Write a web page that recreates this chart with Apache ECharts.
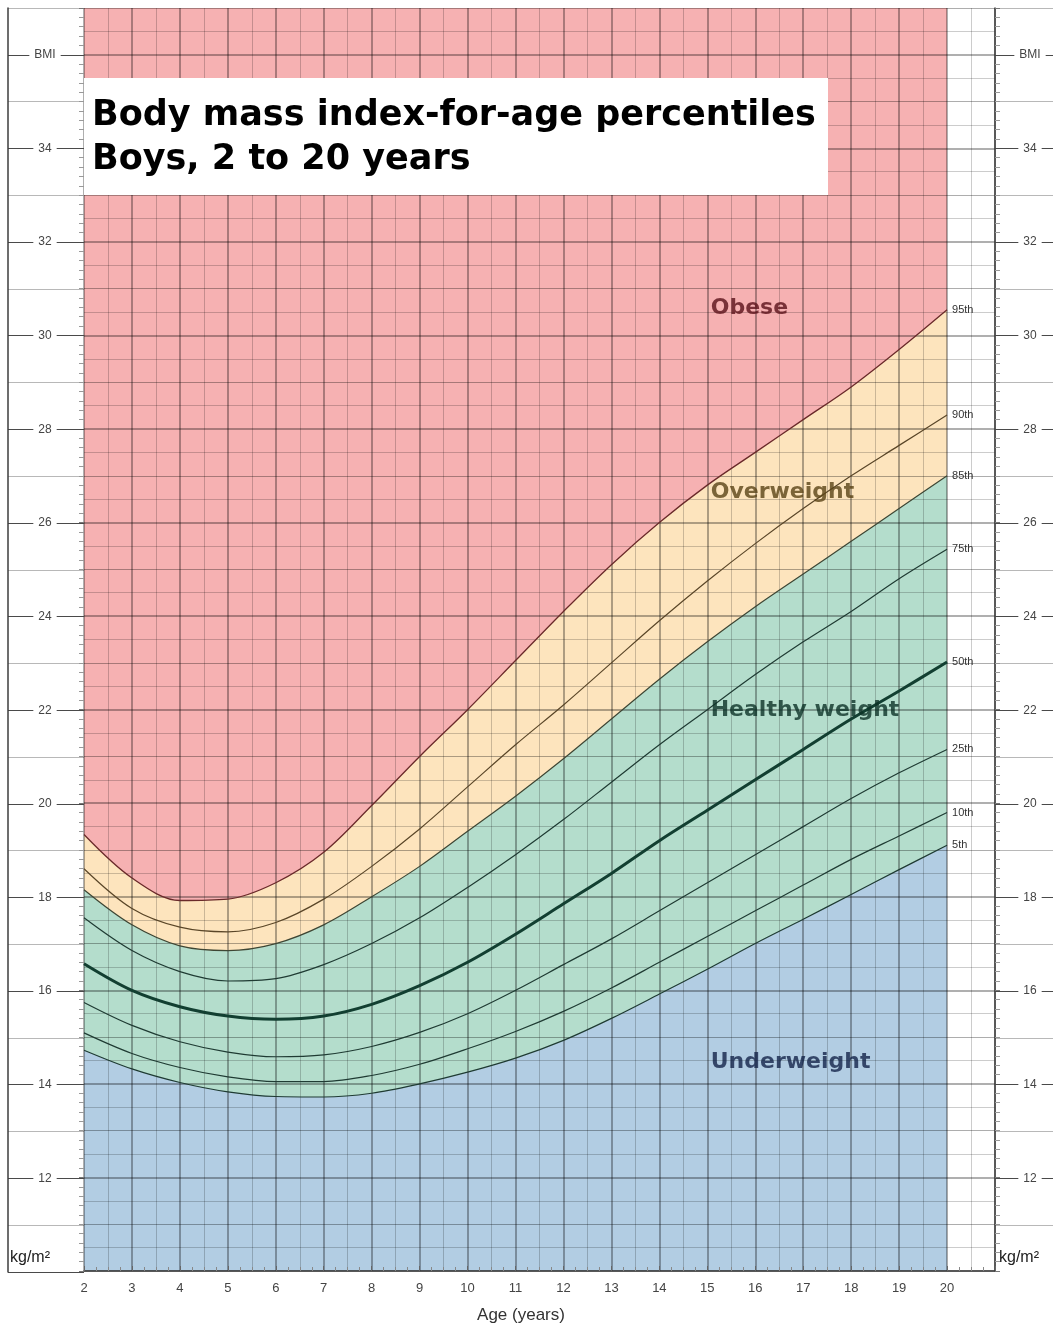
<!DOCTYPE html>
<html>
<head>
<meta charset="UTF-8">
<title>BMI-for-age percentiles, boys 2 to 20</title>
<script src="https://cdn.jsdelivr.net/npm/echarts@6/dist/echarts.min.js"></script>
</head>
<body style="margin:0; background:#fff">
<div id="container" style="width:1053px; height:1329px"></div>
<script>
// ages in years, BMI in kg/m2
var ages = [2, 3, 4, 5, 6, 7, 8, 9, 10, 11, 12, 13, 14, 15, 16, 17, 18, 19, 20];
var p5  = [14.72, 14.32, 14.03, 13.83, 13.73, 13.72, 13.8, 14.0, 14.25, 14.55, 14.93, 15.4, 15.92, 16.45, 17.0, 17.52, 18.05, 18.58, 19.1];
var p10 = [15.09, 14.65, 14.35, 14.15, 14.05, 14.05, 14.18, 14.42, 14.75, 15.12, 15.55, 16.05, 16.6, 17.15, 17.7, 18.25, 18.8, 19.3, 19.8];
var p25 = [15.74, 15.25, 14.9, 14.68, 14.58, 14.62, 14.8, 15.1, 15.5, 16.0, 16.55, 17.1, 17.7, 18.3, 18.9, 19.5, 20.1, 20.65, 21.15];
var p50 = [16.57, 16.0, 15.65, 15.45, 15.38, 15.45, 15.7, 16.1, 16.6, 17.2, 17.85, 18.5, 19.2, 19.85, 20.5, 21.15, 21.8, 22.4, 23.02];
var p75 = [17.55, 16.85, 16.4, 16.2, 16.25, 16.55, 17.0, 17.55, 18.2, 18.9, 19.65, 20.45, 21.25, 22.0, 22.75, 23.45, 24.1, 24.8, 25.43];
var p85 = [18.15, 17.4, 16.95, 16.85, 17.0, 17.4, 18.0, 18.65, 19.4, 20.15, 20.95, 21.8, 22.65, 23.45, 24.2, 24.9, 25.6, 26.3, 27.0];
var p90 = [18.6, 17.75, 17.35, 17.25, 17.45, 17.95, 18.65, 19.45, 20.35, 21.25, 22.1, 23.0, 23.9, 24.75, 25.55, 26.3, 27.0, 27.65, 28.3];
var p95 = [19.33, 18.4, 17.92, 17.95, 18.3, 18.95, 19.95, 21.0, 22.0, 23.05, 24.1, 25.1, 26.0, 26.8, 27.5, 28.2, 28.9, 29.7, 30.55];
var regionNames = ['Obese', 'Overweight', 'Healthy weight', 'Underweight'];

var dom = document.getElementById('container');
var myChart = echarts.init(dom);

function pts(arr) {
    return ages.map(function (a, i) { return [a, arr[i]]; });
}

var axisGray = '#3c3c3c';
var majorLine = 'rgba(0,0,0,0.42)';
var sans = 'Liberation Sans';
var bold = 'DejaVu Sans';
var smoothness = 0.33;

function marginLabel(v) {
    if (v === 36) return '{b|BMI}';
    if (v >= 12 && v <= 34) return '{b|' + v + '}';
    return '';
}

function fill(data, color) {
    return {
        type: 'line', data: data, smooth: smoothness, symbol: 'none', z: 1, silent: true,
        lineStyle: { width: 0, opacity: 0 },
        areaStyle: { color: color, opacity: 1, origin: 'start' }
    };
}

function curve(name, data, color, width) {
    return {
        name: name, type: 'line', data: pts(data), smooth: smoothness, symbol: 'none', z: 4, silent: true,
        lineStyle: { color: color, width: width },
        endLabel: { show: true, formatter: name, distance: 5, color: '#333', fontSize: 11, fontFamily: sans }
    };
}

var regionColors = ['#5a1219', '#5a4316', '#0e3328', '#14244a'];
var regionAt = [[15.06, 30.59], [15.06, 26.64], [15.06, 21.99], [15.06, 14.47]];

var option = {
    animation: false,
    title: {
        text: 'Body mass index-for-age percentiles\nBoys, 2 to 20 years',
        left: 84, top: 78,
        padding: [16, 8, 13, 8],
        backgroundColor: '#fff',
        z: 10,
        textStyle: { fontFamily: bold, fontWeight: 'bold', fontSize: 35, lineHeight: 44, color: '#000', width: 728 }
    },
    grid: [
        { left: 84, right: 58, top: 8, bottom: 57 },
        { left: 8, width: 76, top: 8, bottom: 57 },
        { left: 995, width: 76, top: 8, bottom: 57 }
    ],
    xAxis: [
        {
            type: 'value', gridIndex: 0, min: 2, max: 21, interval: 1, z: 3, position: 'bottom',
            axisLine: { show: true, lineStyle: { color: axisGray, width: 1.5 } },
            axisTick: { show: true, inside: true, length: 5, lineStyle: { color: '#666' } },
            minorTick: { show: true, splitNumber: 4, length: 4, lineStyle: { color: '#888' } },
            axisLabel: {
                formatter: function (v) { return v <= 20 ? String(v) : ''; },
                fontSize: 13, color: '#444', margin: 11, fontFamily: sans
            },
            splitLine: { show: true, lineStyle: { color: majorLine, width: 1.5 } },
            name: 'Age (years)', nameLocation: 'middle', nameGap: 36,
            nameTextStyle: { fontSize: 17, color: '#333', fontFamily: sans, padding: [0, 37, 0, 0] }
        },
        {
            type: 'value', gridIndex: 0, min: 2, max: 21, interval: 0.5, z: 3, position: 'bottom',
            axisLine: { show: false }, axisTick: { show: false }, axisLabel: { show: false },
            splitLine: { show: true, lineStyle: { color: ['rgba(0,0,0,0)', 'rgba(0,0,0,0.2)'], width: 1 } }
        },
        { type: 'value', gridIndex: 1, min: 0, max: 1, show: false },
        { type: 'value', gridIndex: 2, min: 0, max: 1, show: false }
    ],
    yAxis: [
        {
            type: 'value', gridIndex: 0, min: 10, max: 37, interval: 2, position: 'left', z: 3,
            axisLine: { show: false },
            axisTick: { show: true, length: 5, lineStyle: { color: '#777' } },
            minorTick: { show: true, splitNumber: 10, length: 5, lineStyle: { color: '#999' } },
            axisLabel: { show: false },
            splitLine: { show: true, showMaxLine: false, lineStyle: { color: majorLine, width: 1.5 } }
        },
        {
            type: 'value', gridIndex: 0, min: 10, max: 37, interval: 2, position: 'right', z: 3,
            axisLine: { show: true, lineStyle: { color: axisGray, width: 1.5 } },
            axisTick: { show: true, length: 5, lineStyle: { color: '#777' } },
            minorTick: { show: true, splitNumber: 10, length: 5, lineStyle: { color: '#999' } },
            axisLabel: { show: false },
            splitLine: { show: false }
        },
        {
            type: 'value', gridIndex: 0, min: 10, max: 37, interval: 0.5, position: 'left', z: 3,
            axisLine: { show: false }, axisTick: { show: false }, axisLabel: { show: false },
            splitLine: {
                show: true,
                lineStyle: { color: ['rgba(0,0,0,0)', 'rgba(0,0,0,0.2)', 'rgba(0,0,0,0.32)', 'rgba(0,0,0,0.2)'], width: 1 }
            }
        },
        {
            type: 'value', gridIndex: 1, min: 10, max: 37, interval: 2, position: 'left', z: 5,
            axisLine: { show: true, lineStyle: { color: axisGray, width: 1.5 } },
            axisTick: { show: false },
            axisLabel: {
                inside: true, margin: 37, align: 'center', formatter: marginLabel,
                rich: { b: { backgroundColor: '#fff', padding: [1, 5], fontSize: 12, color: '#444', fontFamily: sans } }
            },
            splitLine: { show: true, showMaxLine: false, lineStyle: { color: '#4a4a4a', width: 1.2 } },
            name: 'kg/m²', nameLocation: 'start', nameGap: -22,
            nameTextStyle: { align: 'left', fontSize: 16, color: '#222', fontFamily: sans, padding: [0, 0, 0, 2] }
        },
        {
            type: 'value', gridIndex: 1, min: 10, max: 37, interval: 1, position: 'left', z: 3,
            axisLine: { show: false }, axisTick: { show: false }, axisLabel: { show: false },
            splitLine: { show: true, lineStyle: { color: '#b8b8b8', width: 1 } }
        },
        {
            type: 'value', gridIndex: 2, min: 10, max: 37, interval: 2, position: 'left', z: 5,
            axisLine: { show: false }, axisTick: { show: false },
            axisLabel: {
                inside: true, margin: 35, align: 'center', formatter: marginLabel,
                rich: { b: { backgroundColor: '#fff', padding: [1, 5], fontSize: 12, color: '#444', fontFamily: sans } }
            },
            splitLine: { show: true, showMaxLine: false, showMinLine: false, lineStyle: { color: '#4a4a4a', width: 1.2 } },
            name: 'kg/m²', nameLocation: 'start', nameGap: -22,
            nameTextStyle: { align: 'left', fontSize: 16, color: '#222', fontFamily: sans, padding: [0, 0, 0, 4] }
        },
        {
            type: 'value', gridIndex: 2, min: 10, max: 37, interval: 1, position: 'left', z: 3,
            axisLine: { show: false }, axisTick: { show: false }, axisLabel: { show: false },
            splitLine: { show: true, showMinLine: false, lineStyle: { color: '#b8b8b8', width: 1 } }
        }
    ],
    series: [
        fill([[2, 37], [20, 37]], '#f6b1b2'),
        fill(pts(p95), '#fde4bd'),
        fill(pts(p85), '#b4ddcc'),
        fill(pts(p5), '#b2cde3'),
        curve('95th', p95, '#6a2a2a', 1.3),
        curve('90th', p90, '#5a4628', 1.2),
        curve('85th', p85, '#3e4634', 1.2),
        curve('75th', p75, '#1f3b33', 1.2),
        curve('50th', p50, '#123f31', 3),
        curve('25th', p25, '#1f3b33', 1.2),
        curve('10th', p10, '#1f3b33', 1.2),
        curve('5th', p5, '#1f3b33', 1.2),
        {
            type: 'scatter', symbolSize: 1, z: 5, silent: true,
            itemStyle: { color: 'rgba(0,0,0,0)' },
            data: regionNames.map(function (n, i) {
                return { name: n, value: regionAt[i], label: { color: regionColors[i] } };
            }),
            label: {
                show: true, position: 'right', distance: 0, formatter: '{b}',
                fontFamily: bold, fontWeight: 'bold', fontSize: 22
            }
        }
    ]
};

myChart.setOption(option);
</script>
</body>
</html>
